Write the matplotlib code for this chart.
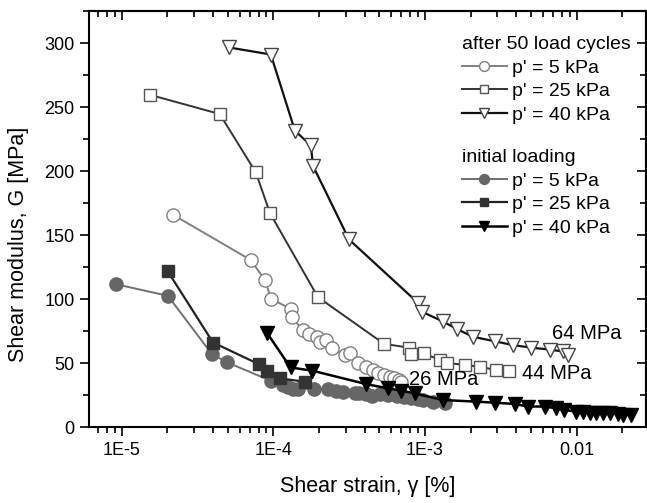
import matplotlib
matplotlib.use('Agg')
import matplotlib.pyplot as plt
from matplotlib.ticker import FixedLocator, FixedFormatter, LogLocator, NullFormatter, MultipleLocator

plt.rcParams['font.family'] = ['Liberation Sans', 'DejaVu Sans']

# after 50 load cycles (open symbols)
x_c5 = [2.17e-5, 7.1e-5, 8.8e-5, 9.7e-5, 1.30e-4, 1.32e-4, 1.56e-4, 1.72e-4, 1.94e-4,
        2.02e-4, 2.24e-4, 2.45e-4, 2.96e-4, 3.19e-4, 3.62e-4, 4.07e-4, 4.54e-4, 4.9e-4,
        5.4e-4, 5.9e-4, 6.3e-4, 6.7e-4, 7.0e-4]
g_c5 = [166, 130.5, 115, 100, 92.5, 86, 76, 73, 70.5,
        66.5, 68, 61.5, 56, 57.5, 50, 47, 44.5, 42,
        40.5, 39, 38, 36.5, 35.5]

x_c25 = [1.54e-5, 4.44e-5, 7.67e-5, 9.53e-5, 1.97e-4, 5.37e-4, 7.81e-4, 8.05e-4, 9.8e-4,
         1.25e-3, 1.40e-3, 1.83e-3, 2.32e-3, 2.95e-3, 3.61e-3]
g_c25 = [259.5, 244.5, 199, 167, 101.5, 65, 62, 57, 57.5,
         52.5, 50, 48.5, 47, 44.5, 44]

x_c40 = [5.12e-5, 9.64e-5, 1.39e-4, 1.77e-4, 1.83e-4, 3.16e-4, 9.0e-4, 9.6e-4, 1.31e-3,
         1.63e-3, 2.07e-3, 2.88e-3, 3.80e-3, 5.02e-3, 6.64e-3, 8.11e-3, 8.75e-3]
g_c40 = [296.5, 291, 231.5, 220, 204, 146.5, 97, 90, 82.5,
         76.5, 70.5, 67, 64, 62, 60.5, 59, 56.5]

# initial loading (filled symbols)
x_i5 = [9.2e-6, 2.02e-5, 3.94e-5, 4.96e-5, 9.7e-5, 1.16e-4, 1.25e-4, 1.35e-4, 1.46e-4,
        1.87e-4, 2.30e-4, 2.61e-4, 2.9e-4, 3.44e-4, 3.67e-4, 4.11e-4, 4.5e-4, 5.03e-4,
        5.7e-4, 6.5e-4, 7.3e-4, 8.1e-4, 9.0e-4, 9.7e-4, 1.13e-3, 1.35e-3]
g_i5 = [111.5, 102.5, 57, 50.5, 36, 33, 31.5, 30, 30,
        29.7, 29.5, 28, 27, 26.5, 26.5, 25.5, 24.5, 25.5,
        25, 24.5, 23.5, 22.4, 21.5, 21, 19.8, 18.5]

x_i25 = [2.02e-5, 4.01e-5, 8.06e-5, 9.1e-5, 1.10e-4, 1.61e-4]
g_i25 = [121.5, 66, 49, 44, 38, 35.4]

x_i40 = [9.1e-5, 1.30e-4, 1.81e-4, 4.11e-4, 5.70e-4, 7.0e-4, 8.55e-4, 1.31e-3, 2.18e-3,
         2.88e-3, 3.90e-3, 4.77e-3, 6.15e-3, 7.34e-3, 8.32e-3, 9.94e-3, 1.10e-2, 1.22e-2,
         1.35e-2, 1.49e-2, 1.65e-2, 1.87e-2, 2.01e-2, 2.29e-2]
g_i40 = [73.5, 46.5, 44, 33.5, 30.2, 28.4, 26.3, 21.1, 19.8,
         19, 18, 16, 16, 14.6, 13.3, 12, 12, 11.2,
         11.2, 10.7, 10.7, 10.2, 9.6, 9.4]

legend_labels = ["p' = 5 kPa", "p' = 25 kPa", "p' = 40 kPa"]

fig = plt.figure(figsize=(6.47, 5.03), dpi=100)
ax = fig.add_axes([89/647, 76/503, 557/647, 416/503])

h_c5, = ax.plot(x_c5, g_c5, '-o', color='#808080', lw=1.4, ms=9.5, mfc='white', mec='#808080', mew=1.0)
h_c25, = ax.plot(x_c25, g_c25, '-s', color='#333333', lw=1.4, ms=8, mfc='white', mec='#555555', mew=1.0)
h_c40, = ax.plot(x_c40, g_c40, '-v', color='#111111', lw=1.6, ms=10, mfc='white', mec='#444444', mew=1.0)
h_i5, = ax.plot(x_i5, g_i5, '-o', color='#707070', lw=1.4, ms=9.5, mfc='#666666', mec='#666666')
h_i25, = ax.plot(x_i25, g_i25, '-s', color='#222222', lw=1.6, ms=8, mfc='#333333', mec='#333333')
h_i40, = ax.plot(x_i40, g_i40, '-v', color='black', lw=1.8, ms=10, mfc='black', mec='black')

ax.set_xscale('log')
ax.set_xlim(6.1e-6, 2.87e-2)
ax.set_ylim(0, 325)

ax.xaxis.set_major_locator(FixedLocator([1e-5, 1e-4, 1e-3, 1e-2]))
ax.xaxis.set_major_formatter(FixedFormatter(['1E-5', '1E-4', '1E-3', '0.01']))
ax.xaxis.set_minor_locator(LogLocator(base=10, subs=range(2, 10), numticks=20))
ax.xaxis.set_minor_formatter(NullFormatter())
ax.yaxis.set_major_locator(MultipleLocator(50))
ax.yaxis.set_minor_locator(MultipleLocator(25))

ax.tick_params(which='both', direction='out', labelsize=13, width=1.2, pad=4)
ax.tick_params(which='major', length=6.5)
ax.tick_params(which='minor', length=4)
for s in ax.spines.values():
    s.set_linewidth(1.5)

# mirrored ticks pointing inward on top and right
top = ax.secondary_xaxis('top')
top.xaxis.set_major_locator(FixedLocator([1e-5, 1e-4, 1e-3, 1e-2]))
top.xaxis.set_minor_locator(LogLocator(base=10, subs=range(2, 10), numticks=20))
top.tick_params(which='both', direction='in', labeltop=False, width=1.2)
top.tick_params(which='major', length=6.5)
top.tick_params(which='minor', length=4)
top.spines['top'].set_linewidth(1.5)
right = ax.secondary_yaxis('right')
right.yaxis.set_major_locator(MultipleLocator(50))
right.yaxis.set_minor_locator(MultipleLocator(25))
right.tick_params(which='both', direction='in', labelright=False, width=1.2)
right.tick_params(which='major', length=6.5)
right.tick_params(which='minor', length=4)
right.spines['right'].set_linewidth(1.5)

ax.set_xlabel('Shear strain, γ [%]', fontsize=15.5)
ax.xaxis.set_label_coords(0.5, -0.118)
ax.set_ylabel('Shear modulus, G [MPa]', fontsize=15.5)
ax.yaxis.set_label_coords(-0.108, 0.44)

ax.text(6.9e-3, 73, '64 MPa', fontsize=14.5, va='center')
ax.text(4.34e-3, 42, '44 MPa', fontsize=14.5, va='center')
ax.text(7.9e-4, 37, '26 MPa', fontsize=14.5, va='center')

leg_kw = dict(title_fontsize=14, fontsize=14, frameon=False, loc='upper left',
              alignment='left', bbox_transform=fig.transFigure, borderpad=0,
              borderaxespad=0, handlelength=2.3, handletextpad=0.26,
              labelspacing=0.31, markerscale=0.75)
leg1 = ax.legend([h_c5, h_c25, h_c40], legend_labels, title='after 50 load cycles',
                 bbox_to_anchor=(462/647, 1 - 36/503), **leg_kw)
ax.add_artist(leg1)
leg2 = ax.legend([h_i5, h_i25, h_i40], legend_labels, title='initial loading',
                 bbox_to_anchor=(462/647, 1 - 149/503), **leg_kw)

fig.savefig('out.png', dpi=100)
